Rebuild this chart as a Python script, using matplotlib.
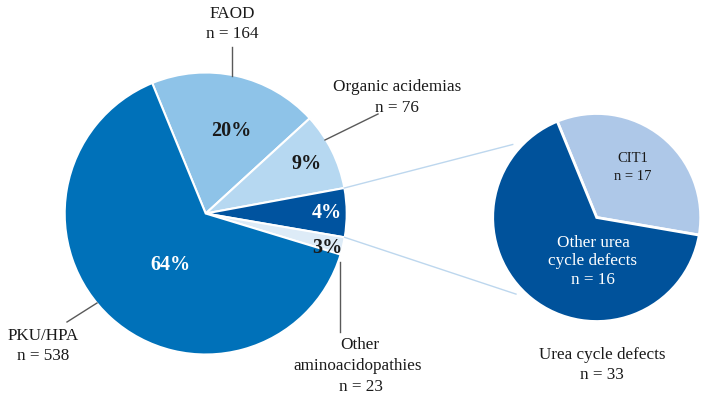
import matplotlib
matplotlib.use("Agg")
import matplotlib.pyplot as plt
import numpy as np

# ---------------- data ----------------
categories = ["FAOD", "Organic acidemias", "Urea cycle defects",
              "Other aminoacidopathies", "PKU/HPA"]
counts = [164, 76, 33, 23, 538]
pct_labels = ["20%", "9%", "4%", "3%", "64%"]
# slice sizes as drawn in the reference picture (percent of circle)
drawn_share_pct = [19.4, 8.9, 5.6, 2.0, 64.1]

ucd_categories = ["CIT1", "Other urea\ncycle defects"]
ucd_counts = [17, 16]
ucd_drawn_share_pct = [33.9, 66.1]

main_colors = ["#8EC3E8", "#B6D8F1", "#00539F", "#DDEBF7", "#0071B9"]
ucd_colors = ["#AEC8E8", "#00529B"]

# ---------------- figure ----------------
W, H = 711, 403
fig = plt.figure(figsize=(W / 100, H / 100), dpi=100)
ax = fig.add_axes([0, 0, 1, 1])
plt.rcParams['font.family'] = ['Liberation Serif', 'DejaVu Serif']

def Y(y):
    return H - y

main_c = (205.7, Y(213.5))
main_r = 141
ucd_c = (596.7, Y(217.5))
ucd_r = 104

wedges, _ = ax.pie(drawn_share_pct, colors=main_colors, startangle=112.3,
                   counterclock=False, center=main_c, radius=main_r,
                   wedgeprops=dict(edgecolor="white", linewidth=1.5))
uwedges, _ = ax.pie(ucd_drawn_share_pct, colors=ucd_colors, startangle=112.3,
                    counterclock=False, center=ucd_c, radius=ucd_r,
                    wedgeprops=dict(edgecolor="white", linewidth=2.0))

ax.set_xlim(0, W)
ax.set_ylim(0, H)
ax.set_aspect("equal")
ax.axis("off")

txt = "#1a1a1a"
fs = 12.3

# percentage labels
pct_pos = [(231, 131), (307, 164), (327, 213), (327, 248), (170, 265)]
pct_col = [txt, txt, "white", txt, "white"]
for lab, (x, y), c in zip(pct_labels, pct_pos, pct_col):
    ax.text(x, Y(y), lab, ha="center", va="center", fontsize=14.5,
            fontweight="bold", color=c)

# category labels
ax.text(232, Y(14), categories[0], ha="center", va="center", fontsize=fs, color=txt)
ax.text(232, Y(34), f"n = {counts[0]}", ha="center", va="center", fontsize=fs, color=txt)
ax.text(397, Y(87), categories[1], ha="center", va="center", fontsize=fs, color=txt)
ax.text(397, Y(108), f"n = {counts[1]}", ha="center", va="center", fontsize=fs, color=txt)
ax.text(43, Y(336), categories[4], ha="center", va="center", fontsize=fs, color=txt)
ax.text(43, Y(356), f"n = {counts[4]}", ha="center", va="center", fontsize=fs, color=txt)
ax.text(360, Y(345), "Other", ha="center", va="center", fontsize=fs, color=txt)
ax.text(358, Y(366), "aminoacidopathies", ha="center", va="center", fontsize=fs, color=txt)
ax.text(361, Y(387), f"n = {counts[3]}", ha="center", va="center", fontsize=fs, color=txt)
ax.text(602, Y(355), categories[2], ha="center", va="center", fontsize=fs, color=txt)
ax.text(602, Y(375), f"n = {counts[2]}", ha="center", va="center", fontsize=fs, color=txt)

# second pie labels
ax.text(633, Y(158), ucd_categories[0], ha="center", va="center", fontsize=10.5, color=txt)
ax.text(633, Y(176), f"n = {ucd_counts[0]}", ha="center", va="center", fontsize=10.5, color=txt)
ax.text(593, Y(243), "Other urea", ha="center", va="center", fontsize=fs, color="white")
ax.text(593, Y(261), "cycle defects", ha="center", va="center", fontsize=fs, color="white")
ax.text(593, Y(280), f"n = {ucd_counts[1]}", ha="center", va="center", fontsize=fs, color="white")

# leader lines
lc = "#595959"
ax.plot([232, 232], [Y(47), Y(76)], color=lc, lw=1)
ax.plot([325, 378], [Y(140), Y(114)], color=lc, lw=1)
ax.plot([67, 97], [Y(322), Y(303)], color=lc, lw=1)
ax.plot([340, 340], [Y(262), Y(332)], color=lc, lw=1)

# connector lines from the urea-cycle slice to the second pie
ucd_w = wedges[2]
t_top, t_bot = np.deg2rad(ucd_w.theta2), np.deg2rad(ucd_w.theta1)
p1 = (main_c[0] + main_r * np.cos(t_top), main_c[1] + main_r * np.sin(t_top))
p2 = (main_c[0] + main_r * np.cos(t_bot), main_c[1] + main_r * np.sin(t_bot))
a1, a2 = np.deg2rad(139), np.deg2rad(223.5)
q1 = (ucd_c[0] + 1.07 * ucd_r * np.cos(a1), ucd_c[1] + 1.07 * ucd_r * np.sin(a1))
q2 = (ucd_c[0] + 1.07 * ucd_r * np.cos(a2), ucd_c[1] + 1.07 * ucd_r * np.sin(a2))
cc = "#BDD7EE"
ax.plot([p1[0], q1[0]], [p1[1], q1[1]], color=cc, lw=1)
ax.plot([p2[0], q2[0]], [p2[1], q2[1]], color=cc, lw=1)

fig.savefig("out.png", dpi=100, facecolor="white")
